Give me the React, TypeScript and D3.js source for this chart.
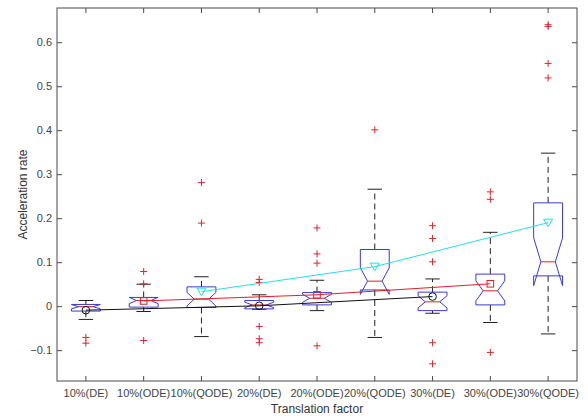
import React, { useMemo } from "react";
import * as d3 from "d3";

const width = 588;
const height = 419;
const margin = { top: 8, right: 11, bottom: 38, left: 57 };

const categories = [
  "10%(DE)",
  "10%(ODE)",
  "10%(QODE)",
  "20%(DE)",
  "20%(ODE)",
  "20%(QODE)",
  "30%(DE)",
  "30%(ODE)",
  "30%(QODE)",
];

// box statistics
const q1 = [-0.01, -0.001, -0.002, -0.005, 0.004, 0.038, -0.009, 0.004, 0.07];
const medians = [0.0, 0.014, 0.017, 0.004, 0.019, 0.058, 0.011, 0.036, 0.102];
const q3 = [0.005, 0.021, 0.045, 0.014, 0.032, 0.13, 0.033, 0.074, 0.236];
const whiskerLo = [-0.029, -0.011, -0.068, -0.006, -0.009, -0.07, -0.015, -0.036, -0.062];
const whiskerHi = [0.014, 0.051, 0.068, 0.027, 0.06, 0.267, 0.063, 0.169, 0.349];
const means = [-0.008, 0.013, 0.034, 0.002, 0.027, 0.091, 0.023, 0.052, 0.191];
const outliers = [
  [-0.07, -0.083],
  [0.08, 0.052, -0.077],
  [0.282, 0.19],
  [0.062, 0.055, -0.045, -0.073, -0.082],
  [0.179, 0.12, 0.099, -0.089],
  [0.402],
  [0.184, 0.155, 0.102, -0.082, -0.13],
  [0.261, 0.244, -0.104],
  [0.641, 0.637, 0.553, 0.52],
];
const sampleSize = 23; // for notch width (matlab: med +- 1.57*iqr/sqrt(n))

const yTicks = [-0.1, 0, 0.1, 0.2, 0.3, 0.4, 0.5, 0.6];

// which boxes belong to which method (means connected by a line)
const groups = [
  { idx: [0, 3, 6], color: "#111111", marker: "circle" },
  { idx: [1, 4, 7], color: "#e0202a", marker: "square" },
  { idx: [2, 5, 8], color: "#22e0e8", marker: "triangle" },
];

const boxColor = "#3b3bd0";
const axisColor = "#4a4a4a";
const font = "Liberation Sans, Arial, sans-serif";

const Chart = () => {
  const boundsWidth = width - margin.left - margin.right;
  const boundsHeight = height - margin.top - margin.bottom;

  const xScale = useMemo(
    () => d3.scaleLinear().domain([0.5, categories.length + 0.5]).range([0, boundsWidth]),
    [boundsWidth]
  );
  const yScale = useMemo(
    () => d3.scaleLinear().domain([-0.169, 0.679]).range([boundsHeight, 0]),
    [boundsHeight]
  );

  const step = xScale(2) - xScale(1);
  const boxW = step * 0.5;
  const capW = boxW * 0.5;

  const boxes = categories.map((c, i) => {
    const cx = xScale(i + 1);
    const iqr = q3[i] - q1[i];
    const nHalf = (1.57 * iqr) / Math.sqrt(sampleSize);
    const nlo = medians[i] - nHalf;
    const nhi = medians[i] + nHalf;
    const L = cx - boxW / 2;
    const R = cx + boxW / 2;
    const pts: [number, number][] = [
      [L, yScale(q1[i])],
      [L, yScale(nlo)],
      [cx - boxW / 4, yScale(medians[i])],
      [L, yScale(nhi)],
      [L, yScale(q3[i])],
      [R, yScale(q3[i])],
      [R, yScale(nhi)],
      [cx + boxW / 4, yScale(medians[i])],
      [R, yScale(nlo)],
      [R, yScale(q1[i])],
    ];
    const path = "M" + pts.map((p) => p.join(",")).join("L") + "Z";
    return (
      <g key={c}>
        <line x1={cx} x2={cx} y1={yScale(q3[i])} y2={yScale(whiskerHi[i])} stroke="#222" strokeDasharray="6,4" />
        <line x1={cx} x2={cx} y1={yScale(q1[i])} y2={yScale(whiskerLo[i])} stroke="#222" strokeDasharray="6,4" />
        <line x1={cx - capW / 2} x2={cx + capW / 2} y1={yScale(whiskerHi[i])} y2={yScale(whiskerHi[i])} stroke="#222" />
        <line x1={cx - capW / 2} x2={cx + capW / 2} y1={yScale(whiskerLo[i])} y2={yScale(whiskerLo[i])} stroke="#222" />
        <path d={path} fill="none" stroke={boxColor} strokeWidth={1} />
        <line x1={cx - boxW / 4} x2={cx + boxW / 4} y1={yScale(medians[i])} y2={yScale(medians[i])} stroke="#e0202a" />
        {outliers[i].map((v, j) => (
          <g key={j} stroke="#d42a2a" strokeWidth={1}>
            <line x1={cx - 3.5} x2={cx + 3.5} y1={yScale(v)} y2={yScale(v)} />
            <line x1={cx} x2={cx} y1={yScale(v) - 3.5} y2={yScale(v) + 3.5} />
          </g>
        ))}
      </g>
    );
  });

  const meanLines = groups.map((g, k) => {
    const line = d3
      .line<number>()
      .x((i) => xScale(i + 1))
      .y((i) => yScale(means[i]));
    return <path key={k} d={line(g.idx) || ""} fill="none" stroke={g.color} strokeWidth={1} />;
  });

  const meanMarkers = groups.map((g, k) =>
    g.idx.map((i) => {
      const x = xScale(i + 1);
      const y = yScale(means[i]);
      if (g.marker === "circle") {
        return <circle key={`${k}-${i}`} cx={x} cy={y} r={3.8} fill="none" stroke={g.color} />;
      }
      if (g.marker === "square") {
        return <rect key={`${k}-${i}`} x={x - 3.3} y={y - 3.3} width={6.6} height={6.6} fill="none" stroke={g.color} />;
      }
      return (
        <path key={`${k}-${i}`} d={`M${x - 4.5},${y - 3.5}L${x + 4.5},${y - 3.5}L${x},${y + 4}Z`} fill="none" stroke={g.color} />
      );
    })
  );

  const tickLen = 5;

  return (
    <svg width={width} height={height} style={{ position: "absolute", left: 0, top: 0, background: "white" }}>
      <g transform={`translate(${margin.left},${margin.top})`}>
        {boxes}
        {meanLines}
        {meanMarkers}
        <rect x={0} y={0} width={boundsWidth} height={boundsHeight} fill="none" stroke={axisColor} strokeWidth={1} />
        {yTicks.map((t) => (
          <g key={t}>
            <line x1={0} x2={tickLen} y1={yScale(t)} y2={yScale(t)} stroke={axisColor} />
            <line x1={boundsWidth - tickLen} x2={boundsWidth} y1={yScale(t)} y2={yScale(t)} stroke={axisColor} />
            <text x={-5} y={yScale(t)} textAnchor="end" dominantBaseline="middle" fontSize={11} fontFamily={font} fill="#444">
              {t === 0 ? "0" : d3.format(".1f")(t)}
            </text>
          </g>
        ))}
        {categories.map((c, i) => (
          <g key={c}>
            <line x1={xScale(i + 1)} x2={xScale(i + 1)} y1={boundsHeight} y2={boundsHeight - tickLen} stroke={axisColor} />
            <line x1={xScale(i + 1)} x2={xScale(i + 1)} y1={0} y2={tickLen} stroke={axisColor} />
            <text x={xScale(i + 1)} y={boundsHeight + 16} textAnchor="middle" fontSize={11} fontFamily={font} fill="#444">
              {c}
            </text>
          </g>
        ))}
        <text x={boundsWidth / 2} y={boundsHeight + 32} textAnchor="middle" fontSize={12} fontFamily={font} fill="#333">
          Translation factor
        </text>
        <text
          transform={`translate(${-30},${boundsHeight / 2}) rotate(-90)`}
          textAnchor="middle"
          fontSize={12}
          fontFamily={font}
          fill="#333"
        >
          Acceleration rate
        </text>
      </g>
    </svg>
  );
};

export default function App() {
  return <Chart />;
}
